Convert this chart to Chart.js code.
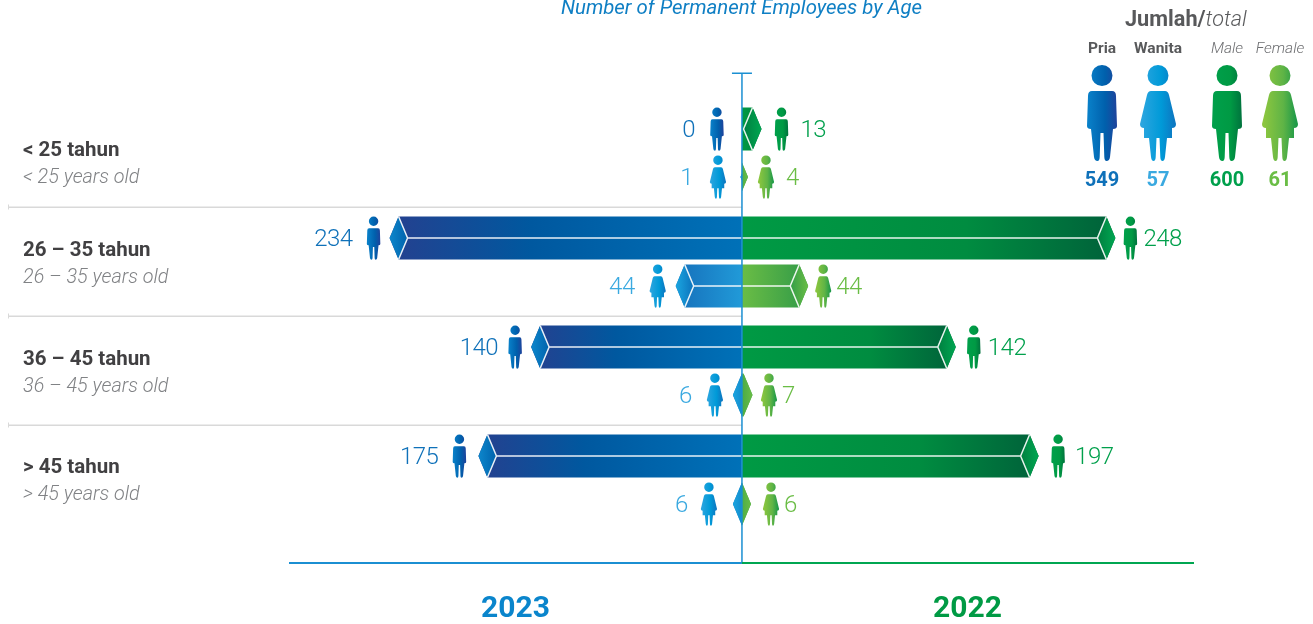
<!DOCTYPE html>
<html>
<head>
<meta charset="utf-8">
<style>
    html, body { margin: 0; padding: 0; background: #fff; }
    #wrap { width: 1313px; height: 624px; overflow: hidden; }
</style>
</head>
<body>
<div id="wrap"><canvas id="ageChart" width="1313" height="624"></canvas></div>
<script src="https://cdn.jsdelivr.net/npm/chart.js@4/dist/chart.umd.min.js"></script>
<script>
// ---- Data ----

const ageGroupsId = ['< 25 tahun', '26 – 35 tahun', '36 – 45 tahun', '> 45 tahun'];
const ageGroupsEn = ['< 25 years old', '26 – 35 years old', '36 – 45 years old', '> 45 years old'];
const male2023 = [0, 234, 140, 175];
const female2023 = [1, 44, 6, 6];
const male2022 = [13, 248, 142, 197];
const female2022 = [4, 44, 7, 6];
const years = ['2023', '2022'];
const totalHeaders = ['Pria', 'Wanita', 'Male', 'Female'];
const totals = [549, 57, 600, 61];

// ---- Styles ----

const FONT = 'Roboto, sans-serif';
const BLUE_LINE = '#1b8fd2';
const GREEN_LINE = '#00a651';

// end = colour at the bar tip, mid = 40% along, base = colour at the axis
const seriesStyles = {
    male2023: { side: -1, gender: 'm', text: '#0f71b9', end: '#25408f', mid: '#00589f', base: '#0071b8', tipOut: '#0d87cc', tipIn: '#0062ac', icon: ['#0a84cc', '#0060ac', '#21409a'] },
    female2023: { side: -1, gender: 'f', text: '#3aa9e0', end: '#1670bb', mid: '#1a80c6', base: '#219ad8', tipOut: '#1ba6e0', tipIn: '#0c72bc', icon: ['#2aa5df', '#009ad8', '#0d78c2'] },
    male2022: { side: 1, gender: 'm', text: '#00a04c', end: '#00613a', mid: '#008c40', base: '#009a44', tipOut: '#00a651', tipIn: '#007f40', icon: ['#00a04b', '#009a44', '#006f3c'] },
    female2022: { side: 1, gender: 'f', text: '#6abd45', end: '#2f9a48', mid: '#48a847', base: '#6abd45', tipOut: '#6abd45', tipIn: '#339e47', icon: ['#8cc63f', '#5fb446', '#1f9a48'] }
};

// distance from the bar tip to the icon centre and to the number, per age group
const iconGaps = {
    male2023: [25, 16, 16, 19],
    female2023: [22.5, 18, 18, 24],
    male2022: [20, 15, 18, 19.5],
    female2022: [18, 15, 16.5, 20]
};
const textGaps = {
    male2023: [47, 37, 33, 40],
    female2023: [47.5, 41, 41, 45],
    male2022: [39, 28, 32, 36.5],
    female2022: [38, 28, 29.5, 33]
};
// age label position relative to the row centre
const labelShift = [-4, -13, -13.5, -14.5];

// ---- Drawing helpers ----

function drawText(ctx, str, x, y, font, color, align, spacing) {
    ctx.font = font;
    ctx.fillStyle = color;
    ctx.textAlign = align || 'left';
    ctx.textBaseline = 'middle';
    ctx.letterSpacing = spacing || '0px';
    ctx.fillText(str, x, y + 2);
    ctx.letterSpacing = '0px';
}

// figure path, 96 units tall, x centred on 0
function figurePath(ctx, gender) {
    ctx.beginPath();
    ctx.arc(0, 10.5, 10.5, 0, Math.PI * 2);
    ctx.closePath();
    if (gender === 'm') {
        ctx.moveTo(-10, 26);
        ctx.lineTo(10, 26);
        ctx.quadraticCurveTo(14, 26, 14, 31);
        ctx.lineTo(15, 61);
        ctx.quadraticCurveTo(15, 64, 11, 64);
        ctx.lineTo(8, 92);
        ctx.quadraticCurveTo(7.5, 96, 4.5, 96);
        ctx.quadraticCurveTo(2.5, 96, 2.3, 92);
        ctx.lineTo(1.5, 68);
        ctx.lineTo(-1.5, 68);
        ctx.lineTo(-2.3, 92);
        ctx.quadraticCurveTo(-2.5, 96, -4.5, 96);
        ctx.quadraticCurveTo(-7.5, 96, -8, 92);
        ctx.lineTo(-11, 64);
        ctx.quadraticCurveTo(-15, 64, -15, 61);
        ctx.lineTo(-14, 31);
        ctx.quadraticCurveTo(-14, 26, -10, 26);
    } else {
        ctx.moveTo(-7, 26);
        ctx.lineTo(7, 26);
        ctx.quadraticCurveTo(10, 26, 11, 30);
        ctx.lineTo(18, 59);
        ctx.quadraticCurveTo(18, 63, 14, 63);
        ctx.lineTo(14, 73);
        ctx.lineTo(9, 73);
        ctx.lineTo(7, 92);
        ctx.quadraticCurveTo(6.5, 96, 4.5, 96);
        ctx.quadraticCurveTo(2.5, 96, 2.3, 92);
        ctx.lineTo(1.5, 73);
        ctx.lineTo(-1.5, 73);
        ctx.lineTo(-2.3, 92);
        ctx.quadraticCurveTo(-2.5, 96, -4.5, 96);
        ctx.quadraticCurveTo(-6.5, 96, -7, 92);
        ctx.lineTo(-9, 73);
        ctx.lineTo(-14, 73);
        ctx.lineTo(-14, 63);
        ctx.quadraticCurveTo(-18, 63, -18, 59);
        ctx.lineTo(-11, 30);
        ctx.quadraticCurveTo(-10, 26, -7, 26);
    }
    ctx.closePath();
}

function drawFigure(ctx, cx, top, scale, gender, stops) {
    ctx.save();
    ctx.translate(cx, top);
    ctx.scale(scale, scale);
    const g = ctx.createLinearGradient(-16, 0, 16, 0);
    g.addColorStop(0, stops[0]);
    g.addColorStop(0.6, stops[1]);
    g.addColorStop(1, stops[2]);
    figurePath(ctx, gender);
    ctx.fillStyle = g;
    ctx.fill();
    ctx.restore();
}

// hexagon-ended bar: base at the axis, pointed tip at the value
function drawBar(ctx, bar, style) {
    const base = bar.base;
    const tip = bar.x;
    const length = Math.abs(tip - base);
    if (length === 0) return;
    const dir = style.side;
    const half = bar.height / 2;
    const y = bar.y;
    const w = Math.min(length, 9);
    const shoulderY = length < 9 ? half * length / 9 : half;
    const shoulder = tip - dir * w;
    const inner = tip - dir * 2 * w;

    ctx.save();
    // keep the shape on its own side of the axis
    ctx.beginPath();
    ctx.rect(dir > 0 ? base : tip - 1, y - half - 1, length + 1, bar.height + 2);
    ctx.clip();

    const body = ctx.createLinearGradient(tip, 0, base, 0);
    body.addColorStop(0, style.end);
    body.addColorStop(0.4, style.mid);
    body.addColorStop(1, style.base);
    ctx.beginPath();
    ctx.moveTo(base, y - shoulderY);
    ctx.lineTo(shoulder, y - shoulderY);
    ctx.lineTo(tip, y);
    ctx.lineTo(shoulder, y + shoulderY);
    ctx.lineTo(base, y + shoulderY);
    ctx.closePath();
    ctx.fillStyle = body;
    ctx.fill();

    const cap = ctx.createLinearGradient(tip, 0, inner, 0);
    cap.addColorStop(0, style.tipOut);
    cap.addColorStop(1, style.tipIn);
    ctx.beginPath();
    ctx.moveTo(shoulder, y - shoulderY);
    ctx.lineTo(tip, y);
    ctx.lineTo(shoulder, y + shoulderY);
    ctx.lineTo(inner, y);
    ctx.closePath();
    ctx.fillStyle = cap;
    ctx.fill();

    if (length > 15) {
        ctx.strokeStyle = 'rgba(255,255,255,0.9)';
        ctx.lineWidth = 1.5;
        ctx.beginPath();
        ctx.moveTo(shoulder, y - shoulderY);
        ctx.lineTo(inner, y);
        ctx.lineTo(shoulder, y + shoulderY);
        if (length > 30) {
            ctx.moveTo(inner, y);
            ctx.lineTo(base, y);
        }
        ctx.stroke();
    }
    ctx.restore();
}

// ---- Plugins ----

const backdropPlugin = {
    id: 'backdrop',
    beforeDatasetsDraw(chart) {
        const { ctx, scales } = chart;
        const zeroX = scales.x.getPixelForValue(0);
        const band = scales.y.getPixelForValue(1) - scales.y.getPixelForValue(0);

        // row separators and age labels
        ageGroupsId.forEach((label, i) => {
            const cy = scales.y.getPixelForValue(i);
            drawText(ctx, label, 23, cy + labelShift[i], '700 20.5px ' + FONT, '#414042');
            drawText(ctx, ageGroupsEn[i], 23, cy + labelShift[i] + 27.5, 'italic 300 19.8px ' + FONT, '#808285');
            if (i < ageGroupsId.length - 1) {
                const ly = cy + band / 2 - 1;
                ctx.fillStyle = '#d9d9d9';
                ctx.fillRect(8, ly, zeroX - 8, 1.5);
                ctx.fillRect(8, ly - 2, 1, 5);
            }
        });
    }
};

const markPlugin = {
    id: 'marks',
    afterDatasetsDraw(chart) {
        const { ctx, chartArea, scales } = chart;
        const zeroX = scales.x.getPixelForValue(0);

        chart.data.datasets.forEach((ds, di) => {
            const style = seriesStyles[ds.key];
            chart.getDatasetMeta(di).data.forEach((bar, i) => {
                drawBar(ctx, bar, style);
                const iconX = bar.x + style.side * iconGaps[ds.key][i];
                const textX = bar.x + style.side * textGaps[ds.key][i];
                drawFigure(ctx, iconX, bar.y - 21.5, 0.45, style.gender, style.icon);
                drawText(ctx, String(Math.abs(ds.data[i])), textX, bar.y, '300 24px ' + FONT, style.text, style.side < 0 ? 'right' : 'left', '-0.5px');
            });
        });

        // centre axis with its cap and the two-colour baseline
        const axisBottom = chartArea.bottom + 28.5;
        ctx.fillStyle = BLUE_LINE;
        ctx.fillRect(zeroX - 0.75, 73, 1.5, axisBottom - 73);
        ctx.fillRect(zeroX - 10, 72.5, 20, 1.5);
        ctx.fillRect(chartArea.left, axisBottom - 1, zeroX - chartArea.left, 2);
        ctx.fillStyle = GREEN_LINE;
        ctx.fillRect(zeroX, axisBottom - 1, chartArea.right - zeroX, 2);

        drawText(ctx, years[0], 515.5, 607, '700 30px ' + FONT, '#0a85cc', 'center');
        drawText(ctx, years[1], 967.5, 607, '700 30px ' + FONT, '#009a44', 'center');

        drawText(ctx, 'Number of Permanent Employees by Age', 741.5, 6.5, 'italic 400 20.4px ' + FONT, '#0f7fc4', 'center');
        drawLegend(ctx);
    }
};

function drawLegend(ctx) {
    drawText(ctx, 'Jumlah/', 1125, 18.5, '700 21.7px ' + FONT, '#58595b');
    const w = ctx.measureText('Jumlah/').width;
    drawText(ctx, 'total', 1125 + w, 18.5, 'italic 300 21.7px ' + FONT, '#58595b');

    const centres = [1102, 1158, 1227, 1280];
    const keys = ['male2023', 'female2023', 'male2022', 'female2022'];
    totalHeaders.forEach((h, i) => {
        const font = i < 2 ? '700 15.5px ' + FONT : 'italic 300 15.5px ' + FONT;
        drawText(ctx, h, centres[i], 47, font, i < 2 ? '#58595b' : '#6d6e71', 'center');
        const style = seriesStyles[keys[i]];
        drawFigure(ctx, centres[i], 65, 1, style.gender, style.icon);
        drawText(ctx, String(totals[i]), centres[i], 178.5, '700 20px ' + FONT, style.text, 'center');
    });
}

// ---- Chart ----

function makeDataset(key, values, stack, sign) {
    return {
        key,
        stack,
        data: values.map(v => sign * v),
        backgroundColor: 'transparent',
        borderWidth: 0,
        categoryPercentage: 0.88,
        barPercentage: 0.896
    };
}

new Chart(document.getElementById('ageChart'), {
    type: 'bar',
    data: {
        labels: ageGroupsId,
        datasets: [
            makeDataset('male2023', male2023, 'male', -1),
            makeDataset('female2023', female2023, 'female', -1),
            makeDataset('male2022', male2022, 'male', 1),
            makeDataset('female2022', female2022, 'female', 1)
        ]
    },
    options: {
        indexAxis: 'y',
        responsive: false,
        animation: false,
        layout: { padding: { left: 289, right: 119, top: 98.5, bottom: 89.5 } },
        plugins: { legend: { display: false }, tooltip: { enabled: false } },
        scales: {
            x: { display: false, stacked: true, min: -300.8, max: 300.2 },
            y: { display: false }
        }
    },
    plugins: [backdropPlugin, markPlugin]
});
</script>
</body>
</html>
